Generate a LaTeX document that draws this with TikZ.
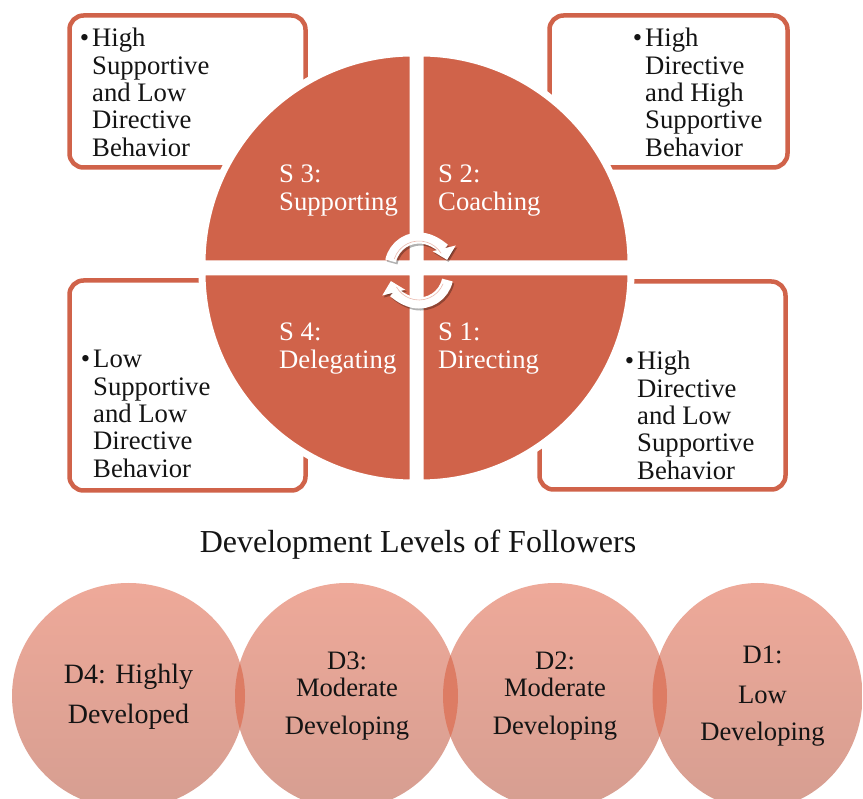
\documentclass[tikz,border=0pt]{standalone}
\usepackage{fontspec}
\setmainfont{Liberation Serif}
\usetikzlibrary{shadows,arrows.meta}
\definecolor{sitor}{RGB}{208,99,74}
\definecolor{dtop}{RGB}{238,169,153}
\definecolor{dbot}{RGB}{214,158,145}
\definecolor{dlens}{RGB}{221,124,100}
\definecolor{ink}{RGB}{20,20,20}
\begin{document}
\begin{tikzpicture}[x=1pt,y=-1pt,
  infobox/.style={draw=sitor, line width=4.5pt, rounded corners=14pt, fill=white},
  quad/.style={fill=sitor, draw=white, line width=7pt, line join=round,
    drop shadow={shadow xshift=1.5pt, shadow yshift=-1.5pt, opacity=0.35, fill=black!70}},
  boxtext/.style={anchor=base west, inner sep=0pt, text=ink,
    font=\fontsize{26.7}{27.3}\selectfont},
  quadtext/.style={anchor=base west, inner sep=0pt, text=white, align=left,
    font=\fontsize{26.7}{27.5}\selectfont},
  dfill/.style={top color=dtop, bottom color=dbot},
  dtext/.style={align=center, text=ink, inner sep=0pt, font=\fontsize{26.6}{27}\selectfont},
  cyc/.style={draw=white, line width=11pt, -{Triangle[width=23pt,length=12pt]}},
  cycshadow/.style={draw=black, opacity=0.3, line width=11pt, -{Triangle[width=23pt,length=12pt]}},
  bevel/.style={draw=sitor!45, line width=0.6pt}
]
\clip (0,0) rectangle (863,799);
\fill[white] (0,0) rectangle (863,799);

% side boxes
\draw[infobox] (69.5,15.5) rectangle (305.5,167.5);
\draw[infobox] (549.5,15.5) rectangle (787.5,167.5);
\draw[infobox] (69.5,280.5) rectangle (305.5,490.5);
\draw[infobox] (539.5,281.5) rectangle (785.5,489.5);

\newcommand{\blt}{\leavevmode\llap{\textbullet\hspace{3pt}}}
\node[boxtext] (t3) at (92,47) {\parbox[t]{200pt}{\raggedright\blt High\\Supportive\\and Low\\Directive\\Behavior}};
\node[boxtext] (t2) at (645,47) {\parbox[t]{140pt}{\raggedright\blt High\\Directive\\and High\\Supportive\\Behavior}};
\node[boxtext] (t4) at (93,368) {\parbox[t]{200pt}{\raggedright\blt Low\\Supportive\\and Low\\Directive\\Behavior}};
\node[boxtext] (t1) at (637,370) {\parbox[t]{140pt}{\raggedright\blt High\\Directive\\and Low\\Supportive\\Behavior}};

% quadrants
\path[quad] (413,264) -- (202,264) arc[start angle=180,end angle=270,radius=211] -- cycle;
\path[quad] (420,264) -- (420,53) arc[start angle=270,end angle=360,radius=211] -- cycle;
\path[quad] (420,272) -- (631,272) arc[start angle=0,end angle=90,radius=211] -- cycle;
\path[quad] (413,272) -- (413,483) arc[start angle=90,end angle=180,radius=211] -- cycle;

\node[quadtext] (s3) at (279,183) {\parbox[t]{130pt}{S 3:\\Supporting}};
\node[quadtext] (s2) at (438,183) {\parbox[t]{130pt}{S 2:\\Coaching}};
\node[quadtext] (s4) at (279,341) {\parbox[t]{130pt}{S 4:\\Delegating}};
\node[quadtext] (s1) at (438,341) {\parbox[t]{130pt}{S 1:\\Directing}};

% cycle arrows
\coordinate (cu) at (419,267);
\coordinate (cl) at (419,274);
\draw[cycshadow] ([shift={(1.5,2)}]cu) ++(-168:29) arc[start angle=-168,end angle=-14,radius=29];
\draw[cycshadow] ([shift={(1.5,2)}]cl) ++(12:29) arc[start angle=12,end angle=166,radius=29];
\draw[cyc] (cu) ++(-168:29) arc[start angle=-168,end angle=-14,radius=29];
\draw[cyc] (cl) ++(12:29) arc[start angle=12,end angle=166,radius=29];
\draw[bevel] (cu) ++(-162:26) arc[start angle=-162,end angle=-32,radius=26];
\draw[bevel] (cl) ++(22:26) arc[start angle=22,end angle=150,radius=26];

% title
\node[anchor=base, inner sep=0pt, text=ink, font=\fontsize{32}{38}\selectfont] (title) at (418,553) {Development Levels of Followers};

% development circles
\path[dfill] (128.5,696) ellipse[x radius=116.5, y radius=113];
\path[dfill] (346.5,696) ellipse[x radius=111.5, y radius=113];
\path[dfill] (555,696) ellipse[x radius=112, y radius=113];
\path[dfill] (757.5,696) ellipse[x radius=105, y radius=113];

\begin{scope}
  \clip (128.5,696) ellipse[x radius=116.5, y radius=113];
  \fill[dlens] (346.5,696) ellipse[x radius=111.5, y radius=113];
\end{scope}
\begin{scope}
  \clip (346.5,696) ellipse[x radius=111.5, y radius=113];
  \fill[dlens] (555,696) ellipse[x radius=112, y radius=113];
\end{scope}
\begin{scope}
  \clip (555,696) ellipse[x radius=112, y radius=113];
  \fill[dlens] (757.5,696) ellipse[x radius=105, y radius=113];
\end{scope}

\node[dtext, font=\fontsize{28}{28}\selectfont] (d4) at (128.5,697) {D4: Highly\\[12pt]Developed};
\node[dtext] (d3) at (347,696) {D3:\\Moderate\\[11pt]Developing};
\node[dtext] (d2) at (555,696) {D2:\\Moderate\\[11pt]Developing};
\node[dtext] (d1) at (762.5,696) {D1:\\[13pt]Low\\[10pt]Developing};
\end{tikzpicture}
\end{document}
